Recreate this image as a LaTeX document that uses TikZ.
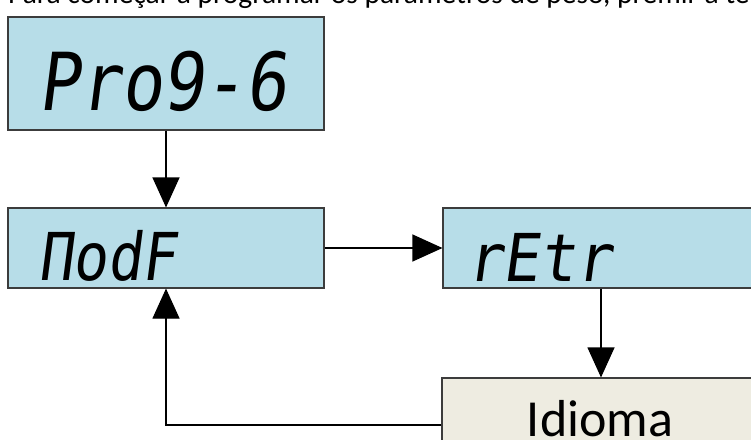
\documentclass[tikz,border=0pt]{standalone}
\usepackage{fontspec}
\setmainfont{Carlito}
\newfontfamily\segfont[FakeSlant=0.15]{DejaVu Sans Mono}
\usetikzlibrary{arrows.meta}
\definecolor{lcdblue}{RGB}{183,221,232}
\definecolor{paperfill}{RGB}{238,236,225}
\definecolor{edge}{RGB}{60,60,60}
\tikzset{
  lcd/.style={draw=edge, line width=1.1pt, fill=lcdblue, inner sep=0pt},
  menubox/.style={draw=edge, line width=1.1pt, fill=paperfill, inner sep=0pt},
  segtext/.style={inner sep=0pt, anchor=base west},
  arr/.style={draw=black, line width=1.1pt, -{Triangle[length=30pt,width=27pt]}}
}
\begin{document}
\begin{tikzpicture}[x=1pt,y=-1pt]
\useasboundingbox (0,0) rectangle (751,439);
\clip (0,0) rectangle (751,439);
\fill[white] (0,0) rectangle (751,439);
\node[anchor=base west, inner sep=0pt, font=\fontsize{29.5}{30}\selectfont] (intro) at (8,3) {Para começar a programar os parâmetros de peso, premir a tecla};
\node[lcd, minimum width=316pt, minimum height=113pt] (b1) at (166,73.5) {};
\node[lcd, minimum width=316pt, minimum height=80pt] (b2) at (166,248) {};
\node[lcd, minimum width=316pt, minimum height=80pt] (b3) at (601,248) {};
\node[menubox, minimum width=316pt, minimum height=94pt] (b4) at (600,425) {};
\node[segtext, font=\segfont\fontsize{80}{80}\selectfont] (t1) at (38,110) {\scalebox{0.86}[1]{Pro9-6}};
\node[segtext, font=\segfont\fontsize{66}{66}\selectfont] (t2) at (38,280) {\scalebox{0.87}[1]{ПodF}};
\node[segtext, font=\segfont\fontsize{66}{66}\selectfont] (t3) at (466,281) {\scalebox{0.92}[1]{rEtr}};
\node[inner sep=0pt, font=\fontsize{52}{52}\selectfont] (t4) at (600,419) {Idioma};
\draw[arr] (b1.south) -- (b2.north);
\draw[arr] (b2.east) -- (b3.west);
\draw[arr] (b3.south) -- (b3.south |- b4.north);
\draw[arr] (b4.west) -| (b2.south);
\end{tikzpicture}
\end{document}
